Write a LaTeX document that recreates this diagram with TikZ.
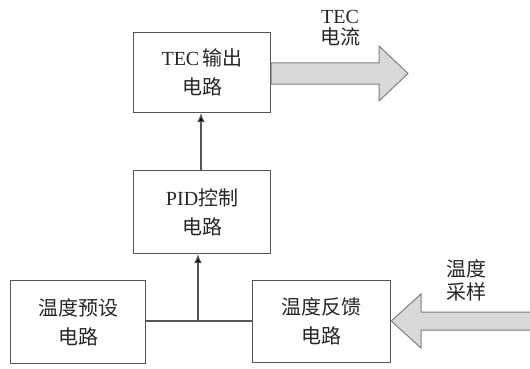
\documentclass[tikz,border=0pt]{standalone}
\usepackage{fontspec}
\setmainfont{Liberation Serif}
\newfontfamily\cjk{Noto Sans CJK SC}
\usetikzlibrary{arrows.meta}
\definecolor{boxline}{HTML}{555555}
\definecolor{arrfill}{HTML}{D9D9D9}
\definecolor{arrline}{HTML}{7F7F7F}
\begin{document}
\begin{tikzpicture}[x=1pt,y=-1pt,
  blk/.style={draw=boxline,line width=1.2pt,minimum width=137pt,minimum height=80pt,anchor=north west,inner sep=0pt,align=center,font=\fontsize{20}{29}\selectfont,text=black!85},
  conn/.style={draw=boxline,line width=1.2pt},
  tip/.style={-{Latex[length=9pt,width=8pt,fill=black]}},
  fat/.style={fill=arrfill,draw=arrline,line width=1pt,line join=miter},
  lbl/.style={font=\fontsize{20}{22}\selectfont,align=center,text=black!85}]
\useasboundingbox (0,0) rectangle (530,369);
\node[blk] (tec) at (133,32) {TEC\,{\cjk 输出}\\{\cjk 电路}};
\node[blk,minimum height=83pt] (pid) at (133,170) {PID{\cjk 控制}\\{\cjk 电路}};
\node[blk,minimum width=135pt,minimum height=83pt] (pre) at (10,280) {{\cjk 温度预设}\\{\cjk 电路}};
\node[blk,minimum width=138pt,minimum height=82pt] (fb) at (252,280) {{\cjk 温度反馈}\\{\cjk 电路}};
\coordinate (j) at (198,321);
\draw[conn] (pre.east |- j) -- (fb.west |- j);
\draw[conn,tip] (j) -- (j |- pid.south);
\draw[conn,tip] (pid.north -| 201,0) -- (tec.south -| 201,0);
% big output arrow
\draw[fat] (tec.east |- 0,63) -- (379,63) -- (379,46) -- (408,73.5) -- (379,101) -- (379,84) -- (tec.east |- 0,84) -- cycle;
% big input arrow
\draw[fat] (531,312) -- (421,312) -- (421,294) -- (fb.east |- 0,321) -- (421,348) -- (421,330) -- (531,330);
\node[lbl] (l1) at (340,28) {TEC\\[-1pt]{\cjk 电流}};
\node[lbl] (l2) at (466,280) {{\cjk 温度}\\[1pt]{\cjk 采样}};
\end{tikzpicture}
\end{document}
